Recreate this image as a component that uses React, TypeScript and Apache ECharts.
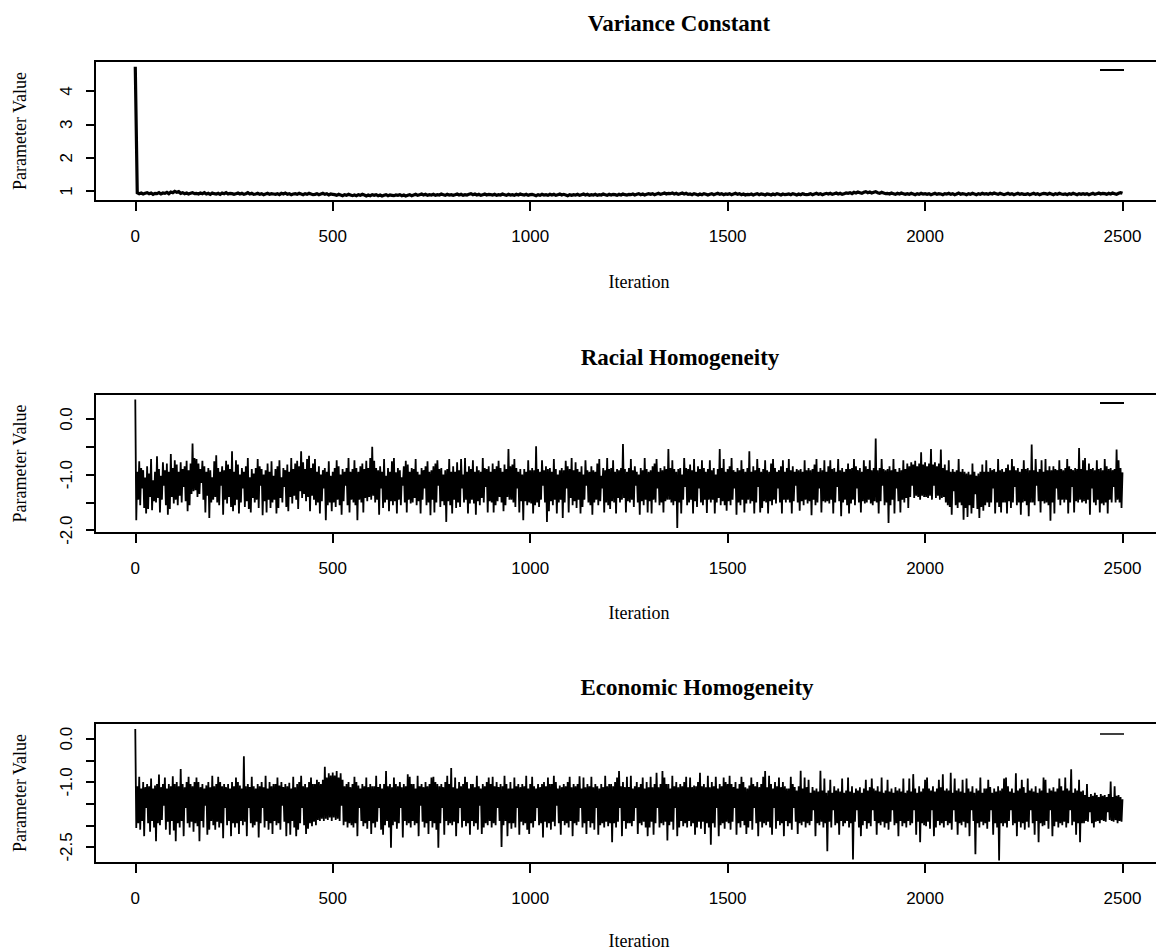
import React, { useEffect, useRef } from "react";
import * as echarts from "echarts";

// ---- data (one value every `steps[i]` iterations) ----
const steps = [5, 2.5, 2.5];
const xTicks = [0, 500, 1000, 1500, 2000, 2500];
const titles = ["Variance Constant", "Racial Homogeneity", "Economic Homogeneity"];
const xName = "Iteration";
const yName = "Parameter Value";
const yTicks = [
  [1, 2, 3, 4],
  [0, -0.5, -1, -1.5, -2],
  [0, -0.5, -1, -1.5, -2, -2.5],
];
const yLabels = [
  [1, 2, 3, 4],
  [0, -1, -2],
  [0, -1, -2.5],
];
const yRanges = [
  [0.7, 4.9],
  [-2.05, 0.45],
  [-2.87, 0.36],
];
const xRange = [-102, 2600];

const varianceConstant = [
  4.73,
  0.95,0.92,0.94,0.91,0.93,0.95,0.92,0.94,0.9,0.93,
  0.92,0.95,0.91,0.94,0.93,0.96,0.92,0.97,0.95,0.99,
  0.96,0.98,0.93,0.95,0.92,0.94,0.91,0.93,0.95,0.92,
  0.93,0.91,0.94,0.92,0.95,0.91,0.93,0.9,0.94,0.92,
  0.91,0.93,0.9,0.94,0.92,0.95,0.91,0.93,0.92,0.9,
  0.92,0.94,0.91,0.93,0.9,0.92,0.95,0.91,0.93,0.9,
  0.91,0.93,0.9,0.92,0.89,0.91,0.93,0.9,0.92,0.91,
  0.9,0.92,0.89,0.93,0.91,0.94,0.9,0.92,0.89,0.91,
  0.92,0.9,0.93,0.91,0.89,0.92,0.9,0.93,0.91,0.89,
  0.9,0.92,0.89,0.91,0.93,0.9,0.92,0.88,0.91,0.9,
  0.89,0.87,0.9,0.88,0.86,0.89,0.87,0.9,0.88,0.86,
  0.88,0.86,0.89,0.87,0.9,0.88,0.85,0.88,0.86,0.89,
  0.87,0.89,0.86,0.88,0.85,0.87,0.89,0.86,0.88,0.87,
  0.86,0.88,0.87,0.89,0.86,0.88,0.85,0.87,0.89,0.86,
  0.88,0.9,0.87,0.89,0.91,0.88,0.9,0.87,0.89,0.88,
  0.9,0.87,0.89,0.88,0.91,0.89,0.87,0.9,0.88,0.89,
  0.87,0.89,0.91,0.88,0.9,0.87,0.89,0.88,0.9,0.92,
  0.89,0.91,0.88,0.9,0.87,0.89,0.91,0.88,0.9,0.89,
  0.88,0.9,0.87,0.89,0.88,0.91,0.89,0.87,0.9,0.88,
  0.89,0.87,0.9,0.88,0.91,0.89,0.88,0.9,0.87,0.89,
  0.9,0.88,0.86,0.89,0.87,0.9,0.88,0.89,0.87,0.9,
  0.88,0.9,0.87,0.89,0.91,0.88,0.9,0.88,0.86,0.89,
  0.87,0.89,0.88,0.9,0.87,0.89,0.91,0.88,0.9,0.87,
  0.89,0.88,0.9,0.87,0.89,0.88,0.91,0.89,0.87,0.9,
  0.88,0.9,0.89,0.87,0.9,0.88,0.91,0.89,0.88,0.9,
  0.89,0.91,0.88,0.9,0.92,0.89,0.91,0.88,0.9,0.92,
  0.9,0.92,0.89,0.91,0.93,0.9,0.92,0.94,0.91,0.93,
  0.92,0.94,0.91,0.93,0.9,0.92,0.94,0.91,0.93,0.9,
  0.91,0.89,0.92,0.9,0.88,0.91,0.89,0.92,0.9,0.88,
  0.9,0.92,0.89,0.91,0.93,0.9,0.92,0.89,0.91,0.9,
  0.92,0.89,0.91,0.93,0.9,0.92,0.89,0.91,0.88,0.9,
  0.89,0.91,0.88,0.9,0.92,0.89,0.91,0.9,0.88,0.91,
  0.9,0.88,0.91,0.89,0.92,0.9,0.88,0.91,0.89,0.9,
  0.91,0.89,0.92,0.9,0.88,0.91,0.89,0.92,0.9,0.89,
  0.9,0.92,0.89,0.91,0.93,0.9,0.92,0.89,0.91,0.93,
  0.91,0.93,0.9,0.92,0.94,0.91,0.93,0.9,0.92,0.94,
  0.93,0.95,0.92,0.96,0.94,0.97,0.95,0.93,0.96,0.98,
  0.95,0.97,0.94,0.96,0.98,0.95,0.93,0.96,0.94,0.92,
  0.93,0.91,0.94,0.92,0.9,0.93,0.91,0.94,0.92,0.9,
  0.92,0.9,0.93,0.91,0.89,0.92,0.9,0.93,0.91,0.92,
  0.9,0.92,0.89,0.91,0.93,0.9,0.92,0.91,0.89,0.92,
  0.91,0.93,0.9,0.92,0.89,0.91,0.94,0.9,0.92,0.91,
  0.89,0.92,0.9,0.93,0.91,0.89,0.92,0.9,0.93,0.91,
  0.92,0.9,0.93,0.91,0.94,0.92,0.9,0.93,0.91,0.89,
  0.91,0.93,0.9,0.92,0.89,0.91,0.93,0.9,0.92,0.9,
  0.9,0.92,0.89,0.91,0.93,0.9,0.92,0.89,0.91,0.93,
  0.92,0.9,0.93,0.91,0.89,0.92,0.9,0.93,0.91,0.9,
  0.91,0.89,0.92,0.9,0.93,0.91,0.89,0.92,0.9,0.92,
  0.9,0.92,0.89,0.91,0.93,0.9,0.92,0.94,0.91,0.93,
  0.92,0.9,0.93,0.91,0.94,0.92,0.9,0.93,0.95,0.93,
];

const racialHomogeneity = [
  0.35,
  -1.82,-0.95,-1.45,-0.76,-1.55,-0.88,-1.25,-0.92,-1.6,-1.05,-1.7,-0.85,-1.62,-0.98,-1.4,-0.72,-1.64,-1.1,-1.48,-0.95,
  -1.5,-0.67,-1.42,-0.9,-1.68,-1.02,-1.45,-0.78,-1.2,-0.92,-1.55,-0.8,-1.72,-0.95,-1.62,-0.63,-1.4,-0.88,-1.52,-0.74,
  -1.45,-0.82,-1.55,-0.95,-1.38,-0.78,-1.5,-0.9,-1.22,-0.85,-1.48,-0.75,-1.66,-0.92,-1.55,-0.8,-1.35,-0.44,-1.3,-0.7,
  -1.28,-0.72,-1.4,-0.8,-1.35,-0.9,-1.15,-0.75,-1.45,-0.85,-1.68,-0.95,-1.38,-0.88,-1.78,-0.92,-1.5,-1.05,-1.45,-0.76,
  -1.4,-0.65,-1.5,-0.88,-1.55,-0.95,-1.2,-0.85,-1.72,-0.92,-1.45,-0.75,-1.52,-0.82,-1.4,-0.9,-1.58,-0.58,-1.66,-0.95,
  -1.55,-0.74,-1.45,-0.82,-1.7,-1.0,-1.5,-0.88,-1.25,-0.95,-1.58,-0.85,-1.48,-0.7,-1.62,-1.05,-1.68,-0.9,-1.42,-0.98,
  -1.5,-0.88,-1.45,-0.72,-1.6,-0.85,-1.2,-0.9,-1.73,-1.0,-1.48,-0.92,-1.68,-0.8,-1.45,-0.95,-1.6,-0.76,-1.5,-1.02,
  -1.45,-0.9,-1.7,-0.85,-1.6,-0.74,-1.42,-1.05,-1.5,-0.88,-1.22,-0.92,-1.58,-0.82,-1.66,-0.95,-1.4,-0.7,-1.52,-0.9,
  -1.38,-0.8,-1.45,-0.75,-1.62,-0.85,-1.3,-0.58,-1.42,-0.78,-1.35,-0.9,-1.48,-0.72,-1.4,-0.66,-1.66,-0.88,-1.38,-0.8,
  -1.45,-0.72,-1.55,-0.95,-1.5,-0.85,-1.7,-1.0,-1.48,-0.92,-1.25,-0.88,-1.82,-0.95,-1.55,-0.76,-1.5,-1.02,-1.66,-0.95,
  -1.5,-0.88,-1.58,-0.74,-1.45,-0.85,-1.55,-1.0,-1.72,-0.9,-1.48,-0.95,-1.2,-0.88,-1.55,-0.7,-1.68,-0.95,-1.45,-0.9,
  -1.5,-0.74,-1.55,-0.88,-1.82,-0.95,-1.45,-0.85,-1.5,-0.8,-1.68,-0.9,-1.42,-0.75,-1.48,-0.88,-1.4,-0.7,-1.45,-0.5,
  -1.38,-0.75,-1.5,-0.88,-1.45,-0.92,-1.72,-0.85,-1.25,-0.95,-1.6,-0.72,-1.5,-1.02,-1.45,-0.88,-1.66,-0.95,-1.48,-0.76,
  -1.55,-0.7,-1.48,-0.96,-1.7,-0.88,-1.45,-0.92,-1.55,-1.05,-1.2,-0.85,-1.5,-0.75,-1.68,-0.82,-1.45,-0.95,-1.52,-0.88,
  -1.5,-0.9,-1.42,-0.72,-1.55,-0.95,-1.48,-1.0,-1.7,-0.88,-1.45,-0.92,-1.25,-0.85,-1.55,-0.76,-1.5,-0.95,-1.73,-0.92,
  -1.45,-0.85,-1.68,-0.8,-1.5,-0.74,-1.2,-0.9,-1.58,-0.88,-1.48,-1.0,-1.55,-0.92,-1.85,-0.9,-1.48,-0.72,-1.55,-0.95,
  -1.7,-0.85,-1.45,-0.95,-1.6,-0.78,-1.5,-0.92,-1.58,-0.72,-1.25,-1.0,-1.5,-0.7,-1.45,-0.95,-1.7,-0.85,-1.52,-0.9,
  -1.45,-0.74,-1.52,-0.95,-1.72,-0.85,-1.48,-0.92,-1.55,-0.95,-1.42,-0.7,-1.5,-0.88,-1.22,-0.9,-1.68,-0.85,-1.48,-0.95,
  -1.5,-0.8,-1.68,-0.9,-1.55,-0.85,-1.48,-0.75,-1.4,-0.88,-1.5,-0.95,-1.66,-0.82,-1.55,-0.9,-1.4,-0.54,-1.45,-0.85,
  -1.45,-0.82,-1.5,-0.72,-1.58,-0.88,-1.25,-0.95,-1.68,-0.9,-1.48,-1.0,-1.82,-0.9,-1.48,-0.95,-1.55,-0.74,-1.5,-0.92,
  -1.52,-0.88,-1.7,-0.92,-1.55,-0.49,-1.5,-0.9,-1.58,-0.95,-1.45,-0.74,-1.2,-0.92,-1.5,-0.85,-1.85,-0.9,-1.66,-0.88,
  -1.48,-0.95,-1.55,-0.72,-1.45,-0.9,-1.7,-1.0,-1.5,-0.92,-1.45,-0.88,-1.78,-0.92,-1.5,-0.75,-1.25,-0.85,-1.68,-0.9,
  -1.42,-0.7,-1.55,-0.92,-1.48,-0.78,-1.6,-0.9,-1.45,-0.95,-1.7,-0.85,-1.58,-1.0,-1.45,-0.74,-1.2,-0.92,-1.5,-0.95,
  -1.55,-0.85,-1.72,-0.92,-1.5,-0.95,-1.45,-0.8,-1.55,-0.72,-1.48,-1.02,-1.25,-0.88,-1.68,-0.92,-1.5,-0.7,-1.55,-0.9,
  -1.62,-0.88,-1.48,-0.74,-1.5,-0.95,-1.7,-0.9,-1.42,-0.92,-1.5,-0.88,-1.45,-0.45,-1.42,-0.9,-1.68,-0.95,-1.48,-0.88,
  -1.5,-0.72,-1.45,-0.92,-1.58,-0.85,-1.2,-0.95,-1.5,-1.0,-1.72,-0.88,-1.48,-0.92,-1.55,-0.7,-1.45,-0.9,-1.68,-0.95,
  -1.48,-0.92,-1.7,-0.85,-1.45,-0.8,-1.5,-0.72,-1.25,-0.95,-1.55,-0.88,-1.5,-0.92,-1.68,-0.85,-1.48,-0.9,-1.45,-0.54,
  -1.45,-0.88,-1.5,-0.74,-1.55,-0.9,-1.48,-0.95,-1.96,-0.9,-1.5,-0.88,-1.7,-1.0,-1.45,-0.7,-1.22,-0.88,-1.55,-0.9,
  -1.5,-0.82,-1.45,-0.92,-1.7,-0.72,-1.48,-0.95,-1.58,-0.85,-1.25,-0.9,-1.5,-0.74,-1.55,-0.88,-1.45,-0.95,-1.69,-0.9,
  -1.45,-0.74,-1.5,-0.92,-1.45,-0.88,-1.7,-1.0,-1.5,-0.9,-1.42,-0.54,-1.55,-0.88,-1.48,-0.72,-1.55,-0.95,-1.65,-0.9,
  -1.48,-0.85,-1.55,-0.7,-1.45,-0.92,-1.25,-0.95,-1.72,-0.88,-1.5,-0.92,-1.55,-0.74,-1.45,-0.9,-1.68,-0.95,-1.52,-0.88,
  -1.45,-0.58,-1.52,-0.95,-1.48,-0.85,-1.7,-0.92,-1.5,-0.72,-1.22,-0.88,-1.68,-0.95,-1.6,-0.9,-1.48,-0.74,-1.5,-0.92,
  -1.7,-0.95,-1.48,-0.8,-1.55,-0.72,-1.45,-0.88,-1.52,-0.95,-1.25,-0.92,-1.5,-0.85,-1.7,-0.74,-1.45,-0.95,-1.5,-0.88,
  -1.45,-0.72,-1.5,-0.92,-1.7,-0.85,-1.48,-0.95,-1.2,-0.9,-1.5,-0.92,-1.65,-0.9,-1.48,-0.95,-1.55,-0.74,-1.45,-0.92,
  -1.52,-0.88,-1.48,-0.92,-1.73,-0.9,-1.45,-0.82,-1.55,-0.72,-1.5,-0.95,-1.25,-0.88,-1.68,-0.92,-1.48,-0.74,-1.5,-0.95,
  -1.48,-0.85,-1.52,-0.74,-1.45,-0.9,-1.7,-0.88,-1.5,-0.95,-1.22,-0.72,-1.48,-0.92,-1.75,-0.88,-1.5,-0.95,-1.45,-0.9,
  -1.55,-0.8,-1.7,-0.9,-1.52,-0.88,-1.45,-0.72,-1.55,-0.85,-1.25,-0.92,-1.5,-0.88,-1.68,-0.95,-1.48,-0.74,-1.52,-0.85,
  -1.5,-0.9,-1.45,-0.74,-1.52,-0.92,-1.55,-0.88,-1.48,-0.35,-1.5,-0.92,-1.7,-0.88,-1.48,-0.72,-1.2,-0.9,-1.55,-0.92,
  -1.5,-0.9,-1.87,-0.85,-1.55,-0.92,-1.45,-0.72,-1.7,-0.9,-1.25,-0.95,-1.48,-0.88,-1.68,-0.92,-1.45,-0.74,-1.5,-0.9,
  -1.42,-0.8,-1.6,-0.85,-1.4,-0.78,-1.2,-0.82,-1.42,-0.75,-1.38,-0.85,-1.4,-0.8,-1.45,-0.6,-1.38,-0.82,-1.4,-0.78,
  -1.4,-0.85,-1.42,-0.8,-1.38,-0.54,-1.45,-0.82,-1.2,-0.78,-1.42,-0.85,-1.38,-0.8,-1.45,-0.55,-1.42,-0.88,-1.4,-0.82,
  -1.5,-0.92,-1.55,-0.74,-1.58,-0.95,-1.72,-0.9,-1.3,-0.95,-1.55,-0.92,-1.6,-0.72,-1.5,-0.95,-1.55,-0.9,-1.81,-0.95,
  -1.6,-0.98,-1.76,-0.95,-1.55,-1.0,-1.7,-0.8,-1.6,-0.95,-1.35,-1.02,-1.62,-0.98,-1.78,-0.95,-1.58,-0.82,-1.65,-0.95,
  -1.55,-0.74,-1.5,-0.95,-1.58,-0.88,-1.5,-0.92,-1.25,-0.9,-1.7,-0.95,-1.5,-0.72,-1.58,-0.92,-1.68,-0.9,-1.5,-0.95,
  -1.5,-0.88,-1.7,-0.82,-1.48,-0.92,-1.6,-0.72,-1.5,-0.85,-1.22,-0.92,-1.55,-0.88,-1.5,-0.95,-1.72,-0.9,-1.5,-0.74,
  -1.48,-0.9,-1.55,-0.88,-1.75,-0.92,-1.5,-0.46,-1.5,-0.92,-1.55,-0.72,-1.2,-0.95,-1.48,-0.9,-1.68,-0.74,-1.48,-0.95,
  -1.52,-0.72,-1.5,-0.92,-1.55,-0.85,-1.83,-0.92,-1.5,-0.85,-1.7,-0.9,-1.25,-0.92,-1.45,-0.74,-1.55,-0.9,-1.45,-0.92,
  -1.5,-0.88,-1.45,-0.72,-1.7,-0.85,-1.5,-0.9,-1.22,-0.92,-1.68,-0.88,-1.48,-0.9,-1.5,-0.52,-1.45,-0.9,-1.5,-0.74,
  -1.48,-0.7,-1.52,-0.92,-1.45,-0.8,-1.72,-0.9,-1.25,-0.88,-1.5,-0.92,-1.55,-0.74,-1.45,-0.9,-1.68,-0.88,-1.52,-0.92,
  -1.55,-0.72,-1.5,-0.85,-1.7,-0.9,-1.45,-0.88,-1.5,-0.92,-1.22,-0.9,-1.5,-0.55,-1.45,-0.74,-1.5,-0.88,-1.6,-0.96,
];

const economicHomogeneity = [
  0.22,
  -2.06,-1.1,-1.95,-0.88,-2.1,-1.15,-1.9,-1.0,-2.25,-1.12,-1.6,-1.05,-1.95,-1.1,-2.15,-0.92,-1.9,-1.15,-2.05,-1.08,
  -2.37,-1.05,-1.95,-0.83,-2.0,-1.12,-1.88,-1.05,-1.55,-0.9,-2.1,-1.15,-1.92,-1.05,-2.22,-1.1,-1.9,-0.87,-2.12,-1.05,
  -2.37,-1.0,-1.95,-1.1,-2.05,-0.7,-1.9,-1.05,-2.25,-1.12,-1.6,-1.0,-1.95,-0.88,-2.05,-1.05,-1.92,-1.1,-2.15,-1.0,
  -1.95,-0.9,-2.02,-1.0,-2.37,-1.12,-1.9,-1.05,-2.05,-1.15,-1.55,-1.08,-2.22,-1.0,-2.1,-1.12,-1.9,-0.86,-2.0,-1.1,
  -2.1,-1.05,-1.92,-0.88,-2.05,-1.0,-1.95,-1.1,-2.3,-1.05,-1.6,-1.12,-2.0,-1.05,-1.9,-1.15,-2.25,-1.0,-1.95,-1.1,
  -2.05,-0.9,-1.95,-1.0,-2.2,-1.08,-1.9,-1.15,-2.0,-0.41,-1.92,-1.1,-2.25,-1.05,-1.6,-1.12,-1.95,-0.88,-2.05,-1.1,
  -2.0,-1.15,-1.92,-1.05,-2.28,-1.1,-1.95,-1.0,-1.6,-1.12,-2.05,-0.86,-1.9,-1.15,-2.1,-1.0,-1.95,-1.1,-2.2,-1.05,
  -1.9,-1.05,-2.0,-0.9,-1.95,-1.08,-2.1,-1.0,-1.55,-1.12,-1.92,-1.05,-2.25,-1.1,-1.95,-1.02,-2.22,-1.15,-1.9,-0.88,
  -2.05,-1.12,-2.25,-1.05,-2.1,-1.0,-1.95,-0.86,-1.6,-1.1,-2.0,-1.05,-2.2,-1.12,-2.08,-1.0,-1.95,-0.9,-2.02,-1.05,
  -1.92,-1.05,-2.0,-0.95,-1.88,-1.0,-1.9,-1.05,-1.85,-0.95,-1.9,-0.65,-1.85,-0.9,-1.88,-0.8,-1.82,-0.85,-1.9,-0.78,
  -1.82,-0.85,-1.88,-0.75,-1.85,-0.9,-1.9,-0.8,-1.55,-0.95,-2.0,-1.1,-1.92,-1.05,-2.05,-1.0,-1.95,-1.12,-2.0,-1.05,
  -2.05,-0.88,-1.95,-1.0,-2.25,-1.08,-1.6,-1.15,-1.9,-1.05,-2.02,-1.1,-1.95,-0.9,-2.08,-1.12,-1.9,-1.05,-2.2,-1.1,
  -1.95,-1.1,-2.05,-0.86,-1.92,-1.12,-1.6,-1.05,-2.1,-1.15,-2.22,-1.05,-2.0,-0.75,-1.9,-1.1,-2.05,-1.05,-2.52,-1.12,
  -2.0,-0.9,-1.92,-1.05,-2.08,-1.1,-1.95,-1.0,-1.6,-1.12,-2.28,-1.05,-1.9,-1.1,-2.0,-0.82,-1.95,-0.88,-2.05,-1.05,
  -1.9,-1.05,-2.0,-1.15,-1.95,-0.86,-2.25,-1.1,-1.55,-1.05,-1.92,-1.12,-2.05,-1.0,-1.95,-1.1,-2.2,-1.05,-1.9,-0.9,
  -2.05,-0.88,-1.95,-1.0,-2.1,-1.05,-2.52,-1.1,-1.95,-1.05,-1.6,-1.12,-2.22,-1.0,-1.9,-0.86,-2.0,-1.05,-1.95,-0.68,
  -2.0,-1.12,-1.92,-0.9,-2.25,-1.15,-1.95,-1.0,-1.6,-1.1,-2.05,-1.05,-1.9,-0.88,-2.02,-1.0,-1.95,-1.15,-2.22,-1.05,
  -1.9,-1.05,-2.02,-1.12,-1.95,-0.86,-2.1,-1.1,-1.55,-1.15,-2.2,-1.05,-2.05,-1.1,-1.95,-1.0,-2.0,-0.9,-1.9,-1.05,
  -2.05,-0.88,-1.95,-1.1,-2.0,-1.0,-1.6,-1.12,-1.9,-1.05,-2.5,-1.1,-2.0,-0.86,-1.9,-1.05,-2.25,-1.15,-1.95,-1.0,
  -2.08,-1.15,-1.95,-0.9,-2.05,-1.1,-1.6,-1.05,-2.22,-1.12,-1.92,-1.05,-2.0,-1.1,-1.95,-0.86,-2.1,-1.15,-2.2,-1.05,
  -1.95,-0.88,-2.05,-1.1,-1.9,-1.15,-1.6,-1.05,-2.0,-1.12,-1.95,-1.05,-2.28,-1.0,-1.92,-1.1,-2.05,-0.9,-1.95,-1.05,
  -2.1,-1.05,-1.92,-0.86,-2.02,-1.0,-1.55,-1.15,-1.95,-1.08,-2.22,-1.12,-1.9,-1.05,-2.0,-1.1,-1.95,-1.0,-2.05,-0.88,
  -1.9,-1.12,-2.25,-1.05,-1.95,-1.1,-2.0,-1.05,-1.92,-0.87,-1.6,-1.15,-2.05,-0.9,-1.95,-1.12,-2.2,-1.05,-1.9,-1.1,
  -2.05,-0.88,-1.95,-1.12,-2.1,-1.05,-1.6,-1.1,-2.22,-1.15,-2.0,-1.05,-1.95,-1.12,-2.05,-0.86,-1.92,-1.1,-2.02,-1.05,
  -1.95,-1.05,-2.39,-1.1,-1.95,-1.0,-2.05,-0.9,-1.92,-0.75,-1.6,-1.1,-2.25,-1.0,-1.9,-1.12,-2.08,-0.88,-1.95,-1.12,
  -1.95,-0.86,-2.02,-1.15,-1.9,-1.1,-1.6,-1.0,-2.2,-1.12,-1.95,-1.05,-2.0,-0.9,-1.92,-1.15,-2.05,-1.0,-2.25,-1.12,
  -2.05,-0.88,-1.92,-1.12,-2.22,-1.05,-1.95,-0.79,-1.6,-1.12,-2.05,-1.05,-1.95,-0.75,-2.0,-0.9,-1.92,-1.05,-2.35,-1.05,
  -2.0,-1.15,-1.92,-0.86,-2.1,-1.1,-1.6,-1.0,-2.25,-1.12,-2.05,-1.05,-1.9,-1.1,-2.02,-1.0,-1.95,-0.88,-2.05,-1.12,
  -1.9,-0.9,-2.02,-1.12,-1.95,-1.08,-2.22,-1.1,-2.05,-1.0,-1.92,-0.79,-2.08,-1.1,-1.92,-1.05,-2.2,-1.12,-1.95,-0.86,
  -2.05,-1.12,-2.45,-1.0,-1.95,-1.1,-2.05,-0.88,-1.6,-1.15,-2.25,-1.05,-2.0,-1.1,-1.95,-0.9,-2.08,-1.0,-1.92,-1.05,
  -1.95,-0.86,-2.1,-1.05,-1.92,-1.12,-1.6,-1.0,-2.22,-1.15,-1.95,-1.05,-2.05,-0.88,-1.9,-1.0,-2.0,-1.12,-2.2,-1.15,
  -2.05,-1.08,-1.9,-0.9,-2.1,-1.05,-1.6,-1.1,-1.95,-1.0,-2.25,-1.12,-1.92,-1.05,-2.05,-0.88,-1.95,-0.75,-2.0,-1.12,
  -1.92,-0.86,-2.05,-1.05,-2.22,-1.15,-1.6,-1.0,-2.08,-1.1,-1.9,-0.9,-2.0,-1.12,-1.95,-1.0,-2.25,-1.1,-1.9,-1.15,
  -2.02,-1.15,-1.95,-0.88,-2.1,-1.05,-1.6,-1.12,-1.92,-1.2,-2.2,-1.1,-1.95,-0.74,-2.0,-1.15,-1.92,-0.9,-2.05,-1.12,
  -1.95,-0.95,-2.0,-1.25,-1.9,-1.12,-1.65,-1.2,-2.25,-1.15,-1.95,-1.22,-2.0,-0.74,-1.92,-1.2,-2.05,-0.92,-1.95,-1.25,
  -2.6,-1.2,-1.92,-0.95,-2.05,-1.25,-1.65,-1.1,-2.0,-1.2,-1.95,-1.15,-2.22,-1.22,-1.9,-0.92,-2.02,-1.25,-1.95,-1.2,
  -1.9,-0.9,-2.05,-1.22,-1.95,-1.1,-2.79,-1.25,-1.92,-1.15,-1.65,-1.2,-2.05,-1.12,-2.25,-1.25,-2.0,-1.15,-1.9,-0.95,
  -2.08,-1.2,-1.95,-1.12,-2.02,-0.92,-1.65,-1.15,-1.9,-1.2,-2.22,-1.1,-1.95,-1.22,-2.0,-0.9,-1.92,-1.25,-2.05,-1.2,
  -1.95,-0.95,-2.1,-1.22,-1.92,-1.15,-1.65,-1.25,-2.0,-1.12,-1.95,-1.2,-2.25,-1.15,-1.9,-1.22,-2.02,-0.92,-1.95,-1.25,
  -2.05,-1.2,-1.9,-0.92,-2.0,-1.22,-1.95,-0.82,-1.65,-1.15,-2.22,-1.25,-1.92,-1.1,-2.39,-1.22,-1.95,-1.15,-2.0,-0.95,
  -2.02,-0.9,-1.92,-1.15,-2.08,-1.2,-1.65,-1.1,-2.25,-1.22,-2.05,-1.15,-1.9,-0.95,-2.0,-1.12,-1.95,-0.82,-2.05,-1.2,
  -1.9,-1.15,-2.0,-1.2,-1.95,-0.79,-2.1,-1.25,-1.65,-0.92,-1.92,-1.2,-2.22,-1.15,-1.95,-1.22,-2.0,-0.95,-1.92,-1.25,
  -2.05,-0.92,-1.95,-1.15,-2.25,-1.22,-1.65,-1.1,-1.9,-1.25,-2.67,-1.15,-1.95,-1.2,-2.05,-0.9,-1.92,-1.25,-2.0,-1.15,
  -1.95,-1.15,-2.08,-0.95,-1.92,-1.12,-1.65,-1.25,-2.22,-1.15,-1.95,-1.22,-2.05,-1.1,-2.81,-1.2,-1.95,-1.15,-2.02,-0.92,
  -1.95,-0.9,-2.05,-1.1,-1.9,-1.22,-1.65,-1.15,-2.0,-1.25,-1.95,-0.8,-2.25,-1.2,-1.92,-1.15,-2.05,-0.95,-1.95,-1.12,
  -2.1,-1.25,-1.92,-0.92,-2.05,-1.2,-1.65,-1.15,-1.95,-1.22,-2.22,-1.1,-1.9,-1.25,-2.39,-1.15,-1.95,-1.2,-2.02,-0.9,
  -2.0,-0.95,-1.9,-1.25,-2.08,-1.15,-1.65,-1.2,-2.25,-1.12,-2.02,-1.22,-1.92,-1.15,-2.05,-0.92,-1.95,-1.1,-2.0,-1.2,
  -1.92,-0.9,-2.05,-1.15,-1.95,-1.2,-1.65,-0.71,-2.0,-1.25,-1.92,-1.15,-2.22,-1.2,-1.95,-0.95,-2.39,-1.22,-1.95,-1.2,
  -1.95,-1.3,-1.9,-1.05,-1.92,-1.35,-1.7,-1.28,-1.95,-1.32,-2.05,-1.25,-1.92,-1.3,-1.9,-1.35,-1.95,-1.28,-1.88,-1.32,
  -1.9,-1.3,-1.92,-1.35,-1.7,-1.28,-1.88,-0.99,-1.9,-1.35,-1.92,-1.1,-1.88,-1.32,-1.95,-1.3,-1.9,-1.35,-1.92,-1.4,
];

const seriesData = [varianceConstant, racialHomogeneity, economicHomogeneity];

// ---- layout (pixels) ----
const GRID_LEFT = 95;
const GRID_WIDTH = 1067;
const gridTops = [61, 394, 723];
const gridHeights = [140, 139, 140];
const titleCenters = [679, 680, 697];
const titleYs = [23, 357, 687];
const xNameYs = [282, 613, 941];
const legendYs = [70, 403, 734];
const traceWidths = [3.2, 1.8, 1.8];

const SANS = '"Liberation Sans", Arial, sans-serif';
const SERIF = '"Liberation Serif", "Times New Roman", serif';

export default function App() {
  const ref = useRef<HTMLDivElement>(null);

  useEffect(() => {
    if (!ref.current) return;
    const chart = echarts.init(ref.current, undefined, { renderer: "svg" });

    const grids = gridTops.map((top, i) => ({
      left: GRID_LEFT,
      top,
      width: GRID_WIDTH,
      height: gridHeights[i],
      show: true,
      borderColor: "#000",
      borderWidth: 2,
      backgroundColor: "transparent",
      containLabel: false,
      outerBoundsMode: "none",
    }));

    const xAxes = gridTops.map((_, i) => ({
      type: "value",
      gridIndex: i,
      position: "bottom",
      min: xRange[0],
      max: xRange[1],
      axisLine: { show: false, onZero: false },
      splitLine: { show: false },
      axisTick: {
        show: true,
        customValues: xTicks,
        length: 10,
        lineStyle: { color: "#000", width: 2 },
      },
      axisLabel: {
        customValues: xTicks,
        color: "#000",
        fontSize: 17,
        fontFamily: SANS,
        margin: 27,
        formatter: (v: number) => String(v),
      },
    }));

    const yAxes = gridTops.map((_, i) => ({
      type: "value",
      gridIndex: i,
      position: "left",
      min: yRanges[i][0],
      max: yRanges[i][1],
      axisLine: { show: false, onZero: false },
      splitLine: { show: false },
      axisTick: {
        show: true,
        customValues: yTicks[i],
        length: 9,
        lineStyle: { color: "#000", width: 2 },
      },
      axisLabel: {
        customValues: yLabels[i],
        rotate: 90,
        color: "#000",
        fontSize: 17,
        fontFamily: SANS,
        margin: 20,
        formatter: (v: number) => (i === 0 ? String(v) : Number(v).toFixed(1)),
      },
    }));

    const series = seriesData.map((vals, i) => ({
      type: "line",
      xAxisIndex: i,
      yAxisIndex: i,
      data: vals.map((v, k) => [k * steps[i], v]),
      showSymbol: false,
      symbol: "none",
      lineStyle: { color: "#000", width: traceWidths[i], join: "miter", miterLimit: 2 },
      silent: true,
    }));

    const graphics: any[] = [];
    gridTops.forEach((top, i) => {
      graphics.push({
        type: "text",
        x: titleCenters[i],
        y: titleYs[i],
        style: {
          text: titles[i],
          font: `bold 23px ${SERIF}`,
          fill: "#000",
          align: "center",
          verticalAlign: "middle",
        },
      });
      graphics.push({
        type: "text",
        x: 639,
        y: xNameYs[i],
        style: {
          text: xName,
          font: `18px ${SERIF}`,
          fill: "#000",
          align: "center",
          verticalAlign: "middle",
        },
      });
      graphics.push({
        type: "text",
        x: 20,
        y: top + gridHeights[i] / 2,
        rotation: Math.PI / 2,
        style: {
          text: yName,
          font: `18px ${SERIF}`,
          fill: "#000",
          align: "center",
          verticalAlign: "middle",
        },
      });
      graphics.push({
        type: "line",
        shape: { x1: 1100, y1: legendYs[i], x2: 1124, y2: legendYs[i] },
        style: { stroke: "#000", lineWidth: i === 2 ? 1.5 : 2 },
      });
    });

    chart.setOption({
      animation: false,
      backgroundColor: "#fff",
      grid: grids,
      xAxis: xAxes,
      yAxis: yAxes,
      series,
      graphic: graphics,
    });

    return () => chart.dispose();
  }, []);

  return (
    <div
      ref={ref}
      style={{ position: "absolute", left: 0, top: 0, width: 1156, height: 951, background: "#fff" }}
    />
  );
}
